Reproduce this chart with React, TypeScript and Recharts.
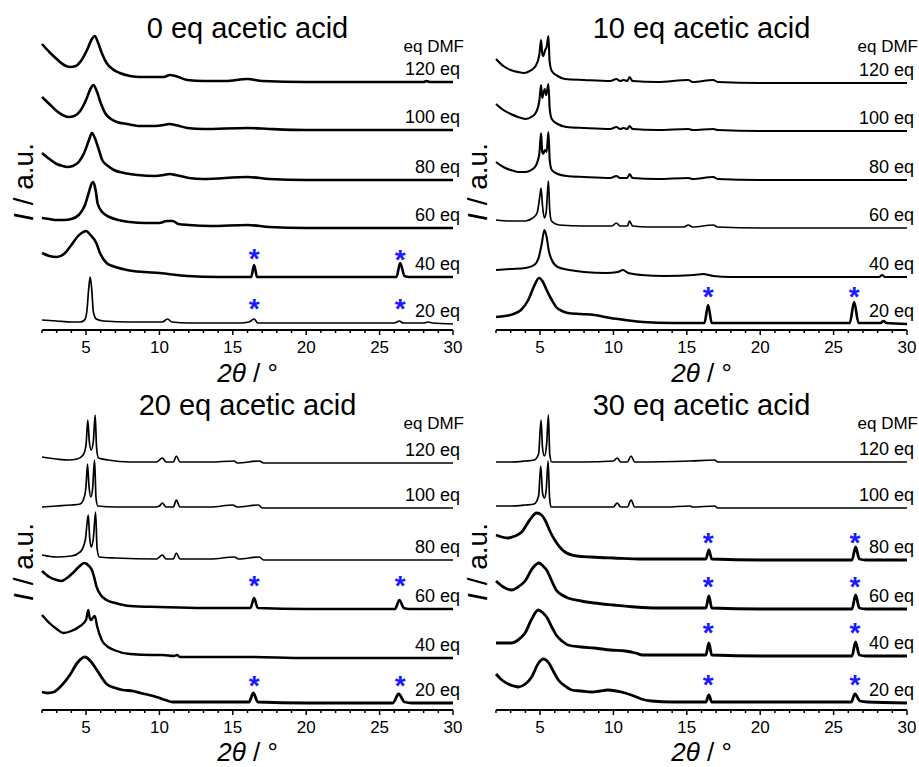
import React from 'react';
import { ComposedChart, Line, Scatter, XAxis, YAxis } from 'recharts';

type Pt = [number, number];

const FONT = "'Liberation Sans', Arial, Helvetica, sans-serif";

const PANEL_TITLES = ['0 eq acetic acid', '10 eq acetic acid', '20 eq acetic acid', '30 eq acetic acid'];
const DMF_LABELS = ['120 eq', '100 eq', '80 eq', '60 eq', '40 eq', '20 eq'];
const X_TICKS = [2, 3, 4, 5, 6, 7, 8, 9, 10, 11, 12, 13, 14, 15, 16, 17, 18, 19, 20, 21, 22, 23, 24, 25, 26, 27, 28, 29, 30];

// vertical stacking offsets of each trace (120, 100, 80, 60, 40, 20 eq DMF)
const OFFSETS_0 = [248, 200, 150, 102, 53, 6];
const OFFSETS_10 = [247, 199, 150, 102, 53, 6];
const OFFSETS_20 = [247, 202, 150, 101, 52, 7];
const OFFSETS_30 = [248, 202, 150, 101, 54, 7];

// ---- 0 eq acetic acid ----
const P0_120: Pt[] = [[2, 38], [2.5, 30], [3, 23], [3.5, 17], [3.9, 15], [4.3, 16], [4.7, 22], [5.1, 33], [5.4, 43], [5.6, 46], [5.8, 40], [6.1, 28], [6.4, 19], [6.8, 13], [7.3, 9], [8, 6], [8.7, 5], [9.5, 5], [10.3, 5], [10.7, 7], [11.1, 6], [11.9, 2], [13, 1], [14.5, 1], [16, 3], [17, 1], [20, 0], [24, 0], [28, 0], [28.2, 1], [28.4, 0], [30, 0]];
const P0_100: Pt[] = [[2, 33], [2.5, 26], [3, 19], [3.4, 15], [3.8, 13], [4.2, 14], [4.6, 19], [5.0, 30], [5.3, 41], [5.5, 45], [5.7, 40], [6.0, 27], [6.3, 17], [6.7, 11], [7.1, 8], [7.8, 6], [8.7, 4], [9.7, 4], [10.3, 5], [10.7, 6], [11.1, 5], [11.9, 2], [13, 1], [16, 2], [17.5, 1], [20, 0], [30, 0]];
const P0_80: Pt[] = [[2, 27], [2.5, 21], [3, 16], [3.4, 14], [3.7, 13], [4.1, 14], [4.5, 18], [4.9, 28], [5.2, 40], [5.4, 47], [5.6, 42], [5.9, 29], [6.1, 20], [6.5, 14], [6.9, 10], [7.6, 7], [8.5, 5], [9.7, 4], [10.3, 5], [10.7, 6], [11.1, 5], [12, 2], [13, 1], [16, 3], [17.5, 1], [20, 0], [30, 0]];
const P0_60: Pt[] = [[2, 10], [2.5, 9], [3, 8], [3.5, 8], [4, 9], [4.5, 13], [4.9, 22], [5.2, 36], [5.4, 45], [5.5, 46], [5.65, 38], [5.8, 24], [6.1, 16], [6.6, 11], [7.2, 8], [8, 6], [9, 5], [10, 5], [10.5, 7], [10.9, 7], [11.3, 4], [12, 3], [13.5, 2], [16, 3], [17.5, 1], [20, 0], [30, 0]];
const P0_40: Pt[] = [[2, 24], [2.5, 21], [3, 20], [3.5, 23], [4, 32], [4.4, 40], [4.7, 44], [5.0, 46], [5.3, 42], [5.7, 34], [5.95, 24], [6.4, 14], [6.8, 11], [7.5, 8], [8.2, 6], [9, 5], [10, 4], [11.9, 1], [14, 0], [16.25, 0], [16.45, 12], [16.65, 0], [20, 0], [26.15, 0], [26.4, 14], [26.7, 1], [27, 0], [30, 0]];
const P0_20: Pt[] = [[2, 4], [3, 3], [4, 2], [4.6, 2], [4.9, 4], [5.05, 12], [5.18, 35], [5.28, 47], [5.38, 36], [5.5, 12], [5.7, 5], [6.2, 3], [8, 2], [10.2, 2], [10.55, 5], [10.85, 2], [12, 1], [15.5, 1], [16.1, 2], [16.45, 5], [16.7, 1], [18, 1], [26, 1], [26.35, 3], [26.6, 1], [28, 1], [28.3, 2], [28.6, 1], [30, 0]];

// ---- 10 eq acetic acid ----
const P10_120: Pt[] = [[2, 24], [2.5, 17], [3, 13], [3.5, 11], [3.9, 10], [4.3, 12], [4.7, 17], [4.95, 28], [5.07, 43], [5.15, 30], [5.22, 27], [5.35, 33], [5.45, 36], [5.57, 47], [5.65, 22], [5.8, 12], [6.2, 7], [6.7, 4], [8, 3], [9.8, 2], [10.2, 4], [10.45, 2], [10.7, 3], [10.95, 2], [11.1, 6], [11.3, 2], [13, 1], [15.1, 3], [15.4, 1], [16.8, 3], [17.1, 1], [20, 0], [30, 0]];
const P10_100: Pt[] = [[2, 27], [2.5, 21], [3, 17], [3.5, 14], [4, 12], [4.4, 14], [4.7, 18], [4.95, 30], [5.07, 46], [5.15, 33], [5.25, 39], [5.32, 42], [5.42, 36], [5.57, 47], [5.66, 22], [5.8, 12], [6.2, 7], [6.8, 4], [8, 3], [9.8, 2], [10.2, 4], [10.45, 2], [10.7, 3], [10.95, 2], [11.1, 5], [11.3, 2], [13, 1], [15.1, 2], [15.4, 1], [16.8, 2], [17.1, 1], [20, 0], [30, 0]];
const P10_80: Pt[] = [[2, 18], [2.5, 13], [3, 10], [3.5, 8], [4, 8], [4.4, 10], [4.7, 14], [4.95, 26], [5.07, 47], [5.15, 28], [5.22, 26], [5.32, 30], [5.45, 28], [5.57, 48], [5.66, 20], [5.8, 10], [6.2, 6], [6.8, 4], [8, 3], [9.8, 2], [10.2, 4], [10.45, 2], [10.7, 2], [10.95, 2], [11.1, 6], [11.3, 2], [13, 1], [15.1, 2], [15.4, 1], [16.8, 3], [17.1, 1], [20, 0], [30, 0]];
const P10_60: Pt[] = [[2, 8], [3, 7], [4, 7], [4.5, 10], [4.8, 15], [4.97, 30], [5.07, 40], [5.17, 22], [5.3, 10], [5.42, 16], [5.57, 47], [5.66, 18], [5.78, 7], [6.3, 3], [8, 2], [9.9, 2], [10.2, 5], [10.45, 2], [10.95, 2], [11.1, 7], [11.3, 2], [12.4, 1], [13.5, 1], [14.8, 1], [15.1, 3], [15.4, 1], [16.8, 3], [17.1, 1], [20, 0], [30, 0]];
const P10_40: Pt[] = [[2, 7], [3, 8], [4, 9], [4.6, 12], [4.9, 19], [5.1, 32], [5.3, 47], [5.45, 40], [5.6, 26], [5.8, 17], [6.2, 10], [7, 7], [8, 5], [9.5, 4], [10.3, 5], [10.65, 7], [11, 4], [11.9, 2], [13.5, 1], [15.5, 2], [16.1, 3], [16.8, 1], [18, 0], [28.1, 0], [28.3, 2], [28.5, 0], [30, 0]];
const P10_20: Pt[] = [[2, 7], [2.6, 8], [3.2, 10], [3.7, 14], [4.2, 24], [4.6, 38], [4.93, 46], [5.2, 42], [5.45, 34], [5.8, 24], [6.1, 17], [6.5, 13], [6.9, 11], [7.8, 10], [8.7, 9], [9.8, 6], [10.8, 4], [12, 2], [14, 1], [16.2, 1], [16.45, 19], [16.7, 1], [20, 1], [26.1, 1], [26.4, 22], [26.7, 1], [28.2, 1], [28.4, 3], [28.6, 1], [30, 0]];

// ---- 20 eq acetic acid ----
const P20_120: Pt[] = [[2, 6], [3, 4], [3.8, 3], [4.4, 4], [4.8, 8], [5.0, 18], [5.12, 43], [5.22, 22], [5.35, 13], [5.5, 22], [5.62, 48], [5.72, 15], [5.85, 5], [6.5, 3], [8, 1], [9.8, 1], [10.2, 5], [10.45, 1], [10.95, 1], [11.15, 7], [11.4, 1], [13.5, 1], [15.1, 2], [15.3, 0], [16.8, 2], [17.1, 0], [20, 0], [30, 0]];
const P20_100: Pt[] = [[2, 1], [3, 2], [4, 3], [4.6, 4], [4.9, 12], [5.0, 22], [5.1, 44], [5.2, 22], [5.33, 11], [5.45, 20], [5.58, 48], [5.68, 10], [5.8, 2], [7, 1], [9.7, 1], [10.0, 2], [10.2, 5], [10.45, 1], [10.95, 1], [11.15, 8], [11.4, 1], [12.3, 1], [13.5, 1], [15.0, 3], [15.3, 1], [16.75, 3], [17.0, 0], [20, 0], [30, 0]];
const P20_80: Pt[] = [[2, 5], [3, 3], [4, 4], [4.6, 8], [4.95, 20], [5.15, 45], [5.25, 22], [5.35, 13], [5.5, 22], [5.65, 48], [5.75, 12], [5.9, 3], [7, 2], [9.8, 1], [10.2, 5], [10.45, 1], [10.95, 1], [11.15, 7], [11.4, 1], [13.5, 1], [15.1, 3], [15.4, 1], [16.8, 3], [17.1, 0], [20, 0], [30, 0]];
const P20_60: Pt[] = [[2, 38], [2.5, 32], [3, 29], [3.3, 28], [3.7, 31], [4.1, 36], [4.5, 42], [4.9, 46], [5.2, 43], [5.4, 39], [5.55, 32], [5.7, 23], [6.0, 14], [6.4, 9], [7, 6], [8, 3], [10, 2], [13, 1], [16.2, 1], [16.45, 11], [16.7, 1], [20, 0], [26.05, 0], [26.35, 9], [26.65, 1], [27, 0], [30, 0]];
const P20_40: Pt[] = [[2, 43], [2.5, 35], [3, 29], [3.45, 25], [4, 27], [4.6, 32], [5.0, 38], [5.15, 48], [5.25, 40], [5.35, 38], [5.5, 41], [5.6, 42], [5.75, 32], [6.07, 18], [6.5, 11], [6.9, 8], [8, 4], [9.5, 3], [10.2, 3], [11, 2], [11.2, 3], [11.4, 1], [13, 1], [16, 1], [20, 0], [30, 0]];
const P20_20: Pt[] = [[2, 11], [2.4, 10], [2.8, 11], [3.3, 17], [3.9, 28], [4.4, 40], [4.9, 46], [5.3, 42], [5.6, 36], [6.0, 27], [6.4, 19], [7, 15], [7.5, 13], [8.2, 12], [8.7, 10], [9.3, 8], [9.8, 6], [10.4, 3], [10.9, 1], [12, 1], [16.1, 1], [16.4, 10], [16.7, 1], [20, 0], [25.9, 0], [26.3, 9], [26.7, 1], [27.2, 0], [30, 0]];

// ---- 30 eq acetic acid ----
const P30_120: Pt[] = [[2, 0], [3, 0], [4, 1], [4.6, 2], [4.9, 8], [5.07, 42], [5.17, 14], [5.3, 6], [5.45, 18], [5.57, 47], [5.66, 8], [5.8, 0], [8, 0], [10.0, 1], [10.25, 4], [10.5, 0], [10.95, 0], [11.2, 6], [11.45, 0], [15.2, 1], [16.9, 2], [17.1, 0], [30, 0]];
const P30_100: Pt[] = [[2, 2], [3, 2], [4, 3], [4.6, 4], [4.9, 12], [5.05, 42], [5.17, 15], [5.3, 10], [5.42, 18], [5.55, 47], [5.65, 10], [5.75, 1], [8, 1], [10.0, 1], [10.25, 5], [10.5, 1], [10.95, 1], [11.2, 8], [11.45, 1], [12.4, 1], [13.6, 1], [15.2, 2], [15.4, 1], [16.9, 2], [17.1, 0], [30, 0]];
const P30_80: Pt[] = [[2, 25], [2.4, 23], [2.8, 22], [3.3, 24], [3.75, 28], [4.3, 40], [4.77, 47], [5.1, 45], [5.34, 40], [5.7, 28], [6.0, 20], [6.4, 12], [6.7, 8], [7.5, 4], [8.5, 3], [10, 2], [12, 1], [16.3, 1], [16.5, 10], [16.7, 1], [20, 0], [26.25, 0], [26.5, 13], [26.75, 1], [27.2, 0], [30, 0]];
const P30_60: Pt[] = [[2, 28], [2.5, 22], [3.07, 19], [3.5, 22], [3.98, 28], [4.5, 41], [4.93, 46], [5.2, 43], [5.45, 39], [5.8, 28], [6.1, 19], [6.5, 14], [6.9, 11], [7.8, 8], [8.7, 6], [10, 4], [11.5, 2], [13, 1], [16.3, 1], [16.5, 13], [16.7, 1], [20, 0], [26.25, 0], [26.5, 14], [26.75, 1], [27.2, 0], [30, 0]];
const P30_40: Pt[] = [[2, 13], [2.5, 13], [3.07, 13], [3.5, 16], [3.98, 23], [4.4, 36], [4.88, 46], [5.2, 43], [5.45, 39], [5.8, 29], [6.1, 21], [6.5, 15], [6.9, 11], [7.8, 9], [8.7, 8], [9.8, 6], [10.8, 5], [11.5, 3], [12, 1], [14, 1], [16.3, 1], [16.5, 13], [16.7, 1], [20, 0], [26.25, 0], [26.5, 14], [26.75, 1], [27.2, 0], [30, 0]];
const P30_20: Pt[] = [[2, 29], [2.4, 23], [2.84, 19], [3.2, 17], [3.52, 16], [4, 19], [4.43, 26], [4.9, 40], [5.22, 44], [5.6, 40], [5.9, 32], [6.25, 23], [6.7, 17], [7.16, 13], [7.8, 12], [8.52, 11], [9.1, 12], [9.6, 13], [10.2, 12], [10.8, 10], [11.4, 7], [11.9, 4], [12.6, 2], [14, 1], [16.3, 1], [16.5, 8], [16.7, 1], [20, 1], [26.2, 1], [26.45, 9], [26.8, 2], [27.3, 1], [30, 0]];

// asterisk annotations: [2theta, trace index, height above trace baseline]
const STARS_0: [number, number, number][] = [[16.45, 4, 24], [26.4, 4, 23], [16.45, 5, 21], [26.4, 5, 21]];
const STARS_10: [number, number, number][] = [[16.45, 5, 33], [26.4, 5, 33]];
const STARS_20: [number, number, number][] = [[16.45, 3, 29], [26.4, 3, 29], [16.45, 5, 23], [26.4, 5, 23]];
const STARS_30: [number, number, number][] = [[16.45, 2, 23], [26.45, 2, 23], [16.45, 3, 28], [26.45, 3, 28], [16.45, 4, 29], [26.45, 4, 29], [16.45, 5, 24], [26.45, 5, 24]];

type PanelCfg = {
  title: string;
  traces: Pt[][];
  offsets: number[];
  stars: [number, number, number][];
  widths: number[];
  left: number;
  top: number;
  width: number;
  ml: number;
  mr: number;
  titleY: number;
  dmfY: number;
  xLabelY: number;
};

const PANELS: PanelCfg[] = [
  { title: PANEL_TITLES[0], traces: [P0_120, P0_100, P0_80, P0_60, P0_40, P0_20], offsets: OFFSETS_0, stars: STARS_0, widths: [2.6, 2.6, 2.6, 2.6, 2.6, 1.7], left: 0, top: 0, width: 470, ml: 42, mr: 17, titleY: 38, dmfY: 52, xLabelY: 382 },
  { title: PANEL_TITLES[1], traces: [P10_120, P10_100, P10_80, P10_60, P10_40, P10_20], offsets: OFFSETS_10, stars: STARS_10, widths: [2.1, 2.1, 2.1, 1.7, 2.1, 2.6], left: 460, top: 0, width: 459, ml: 36, mr: 12, titleY: 38, dmfY: 52, xLabelY: 382 },
  { title: PANEL_TITLES[2], traces: [P20_120, P20_100, P20_80, P20_60, P20_40, P20_20], offsets: OFFSETS_20, stars: STARS_20, widths: [1.7, 1.7, 1.7, 2.6, 2.4, 2.8], left: 0, top: 380, width: 470, ml: 42, mr: 17, titleY: 415, dmfY: 429, xLabelY: 761 },
  { title: PANEL_TITLES[3], traces: [P30_120, P30_100, P30_80, P30_60, P30_40, P30_20], offsets: OFFSETS_30, stars: STARS_30, widths: [1.7, 1.7, 2.8, 2.8, 2.8, 2.8], left: 460, top: 380, width: 459, ml: 36, mr: 12, titleY: 415, dmfY: 429, xLabelY: 761 },
];

const CHART_H = 380;
const M_TOP = 34;
const X_AXIS_H = 50;
const Y_MAX = 296;

const XTick = (props: any) => {
  const { x, y, payload } = props;
  const v = payload.value as number;
  const major = v % 5 === 0;
  return (
    <g>
      <line x1={x} x2={x} y1={y} y2={y + (major ? 5 : 3)} stroke="#000" strokeWidth={1.5} />
      {major && (
        <text x={x} y={y + 23} textAnchor="middle" fontSize={17} fontFamily={FONT} fill="#000">
          {v}
        </text>
      )}
    </g>
  );
};

const StarShape = (props: any) => {
  const { cx, cy } = props;
  return (
    <text x={cx} y={cy + 15} textAnchor="middle" fontSize={28} fontWeight="bold" fontFamily={FONT} fill="#1a1aff">
      *
    </text>
  );
};

function Panel({ p }: { p: PanelCfg }) {
  const lines = p.traces.map((tr, i) => tr.map(([x, h]) => ({ x, y: p.offsets[i] + h })));
  const stars = p.stars.map(([x, ti, h]) => ({ x, y: p.offsets[ti] + h }));
  return (
    <div style={{ position: 'absolute', left: p.left, top: p.top, width: p.width, height: CHART_H }}>
      <ComposedChart width={p.width} height={CHART_H} margin={{ top: M_TOP, right: p.mr, bottom: 0, left: p.ml }}>
        <XAxis
          type="number"
          dataKey="x"
          domain={[2, 30]}
          ticks={X_TICKS}
          interval={0}
          tickSize={0}
          tickMargin={0}
          tickLine={false}
          tick={(tp: any) => <XTick {...tp} />}
          height={X_AXIS_H}
          axisLine={{ stroke: '#000', strokeWidth: 2 }}
        />
        <YAxis
          type="number"
          domain={[0, Y_MAX]}
          width={0}
          tick={false}
          tickLine={false}
          axisLine={{ stroke: '#000', strokeWidth: 2 }}
        />
        {lines.map((d, i) => (
          <Line
            key={i}
            data={d}
            dataKey="y"
            type="monotone"
            stroke="#000"
            strokeWidth={p.widths[i]}
            dot={false}
            activeDot={false}
            isAnimationActive={false}
          />
        ))}
        <Scatter data={stars} dataKey="y" shape={(sp: any) => <StarShape {...sp} />} isAnimationActive={false} />
      </ComposedChart>
    </div>
  );
}

function Overlay() {
  return (
    <svg width={919} height={767} style={{ position: 'absolute', left: 0, top: 0, pointerEvents: 'none' }} fontFamily={FONT}>
      {PANELS.map((p, pi) => {
        const L = p.left + p.ml;
        const R = p.left + p.width - p.mr;
        const A = p.top + CHART_H - X_AXIS_H;
        const cx = (L + R) / 2;
        const cy = p.top + M_TOP + (CHART_H - X_AXIS_H - M_TOP) / 2;
        return (
          <g key={pi}>
            <text x={cx} y={p.titleY} textAnchor="middle" fontSize={29} fill="#000">
              {p.title}
            </text>
            <text x={R + 11} y={p.dmfY} textAnchor="end" fontSize={17} fill="#000">
              eq DMF
            </text>
            {DMF_LABELS.map((lab, i) => (
              <text key={i} x={R + 7} y={A - p.offsets[i] - 7} textAnchor="end" fontSize={18} fill="#000">
                {lab}
              </text>
            ))}
            <text x={cx} y={p.xLabelY} textAnchor="middle" fontSize={26} fill="#000">
              <tspan fontStyle="italic">2θ</tspan>
              {' / °'}
            </text>
            <text transform={`translate(${L - 9},${cy}) rotate(-90)`} textAnchor="middle" fontSize={28} fill="#000">
              <tspan fontStyle="italic">I</tspan>
              {' / a.u.'}
            </text>
          </g>
        );
      })}
    </svg>
  );
}

export default function App() {
  return (
    <div style={{ position: 'absolute', left: 0, top: 0, width: 919, height: 767, background: '#fff', fontFamily: FONT }}>
      {PANELS.map((p, i) => (
        <Panel key={i} p={p} />
      ))}
      <Overlay />
    </div>
  );
}
